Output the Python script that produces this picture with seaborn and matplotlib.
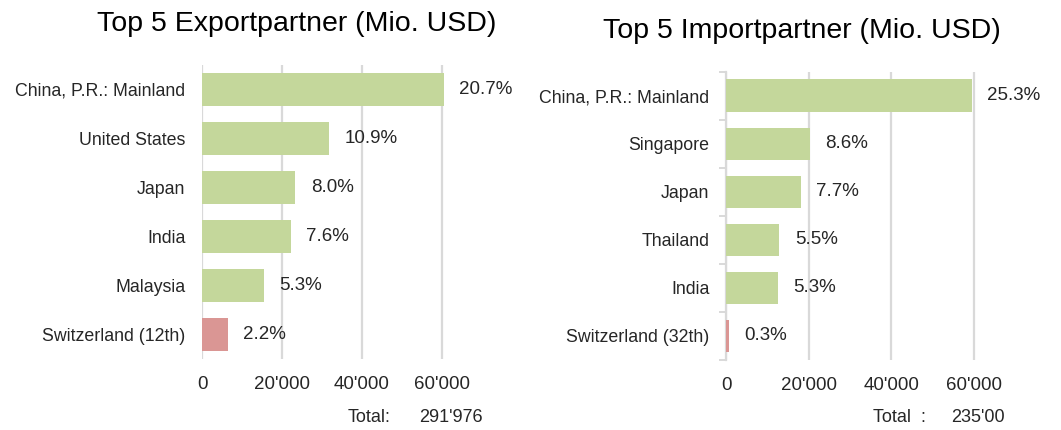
import matplotlib
matplotlib.use('Agg')
import matplotlib.pyplot as plt
from matplotlib.ticker import FuncFormatter, FixedLocator
import numpy as np
import pandas as pd
import seaborn as sns

sns.set_style('white')
plt.rcParams['font.family'] = ['Liberation Sans', 'DejaVu Sans']

TEXT = '#262626'
GREEN = '#C4D79B'
RED = '#DA9694'
GRID = '#D9D9D9'

# Export partners (Mio. USD)
export_partners = ['China, P.R.: Mainland', 'United States', 'Japan', 'India',
                   'Malaysia', 'Switzerland (12th)']
export_values = [60440, 31830, 23360, 22190, 15480, 6420]
export_shares = ['20.7%', '10.9%', '8.0%', '7.6%', '5.3%', '2.2%']
export_total = "291'976"

# Import partners (Mio. USD)
import_partners = ['China, P.R.: Mainland', 'Singapore', 'Japan', 'Thailand',
                   'India', 'Switzerland (32th)']
import_values = [59460, 20210, 18100, 12930, 12460, 700]
import_shares = ['25.3%', '8.6%', '7.7%', '5.5%', '5.3%', '0.3%']
import_total = "235'00"

x_ticks = [0, 20000, 40000, 60000]


def fmt_thousands(v, pos=None):
    return f'{int(v):,}'.replace(',', "'")


def draw_panel(ax, partners, values, shares, left_spine=False):
    df = pd.DataFrame({'partner': partners, 'value': values})
    colors = [GREEN] * (len(partners) - 1) + [RED]
    sns.barplot(data=df, x='value', y='partner', hue='partner', palette=colors,
                orient='h', width=0.68, saturation=1, linewidth=0,
                legend=False, ax=ax, zorder=3)
    ax.set_xlim(0, 61000)
    ax.set_ylim(len(partners) - 0.5, -0.5)
    ax.xaxis.set_major_locator(FixedLocator(x_ticks))
    ax.xaxis.set_major_formatter(FuncFormatter(fmt_thousands))
    ax.grid(axis='x', color=GRID, linewidth=1.6, zorder=0)
    ax.grid(axis='y', visible=False)
    ax.set_xlabel('')
    ax.set_ylabel('')
    for s in ['top', 'right', 'bottom']:
        ax.spines[s].set_visible(False)
    ax.tick_params(axis='x', length=0, pad=12, labelsize=13.5, colors=TEXT)
    ax.tick_params(axis='y', which='major', length=0, pad=12, labelsize=12.8, colors=TEXT)
    if left_spine:
        ax.spines['left'].set_color(GRID)
        ax.spines['left'].set_linewidth(1.6)
        ax.yaxis.set_minor_locator(FixedLocator(np.arange(-0.5, len(partners), 1.0)))
        ax.tick_params(axis='y', which='minor', left=True, length=5, width=1.4,
                       color=GRID)
    else:
        ax.spines['left'].set_visible(False)
    for i, (v, s) in enumerate(zip(values, shares)):
        ax.annotate(s, xy=(v, i), xytext=(11, 0), textcoords='offset points',
                    ha='left', va='center', fontsize=13.5, color=TEXT,
                    annotation_clip=False)


fig = plt.figure(figsize=(10.61, 4.30), dpi=100)
ax1 = fig.add_axes([0.1904, 0.165, 0.230, 0.684])
ax2 = fig.add_axes([0.6843, 0.163, 0.2375, 0.670])

draw_panel(ax1, export_partners, export_values, export_shares)
draw_panel(ax2, import_partners, import_values, import_shares, left_spine=True)

fig.text(0.280, 0.945, 'Top 5 Exportpartner (Mio. USD)', ha='center', va='center',
         fontsize=20.5, color='black')
fig.text(0.756, 0.928, 'Top 5 Importpartner (Mio. USD)', ha='center', va='center',
         fontsize=20.5, color='black')

fig.text(0.328, 0.03, 'Total:', ha='left', va='center', fontsize=13, color=TEXT)
fig.text(0.395, 0.03, export_total, ha='left', va='center', fontsize=13, color=TEXT)
fig.text(0.823, 0.03, 'Total  :', ha='left', va='center', fontsize=13, color=TEXT)
fig.text(0.896, 0.03, import_total, ha='left', va='center', fontsize=13, color=TEXT)

fig.savefig('out.png', dpi=100, facecolor='white')
